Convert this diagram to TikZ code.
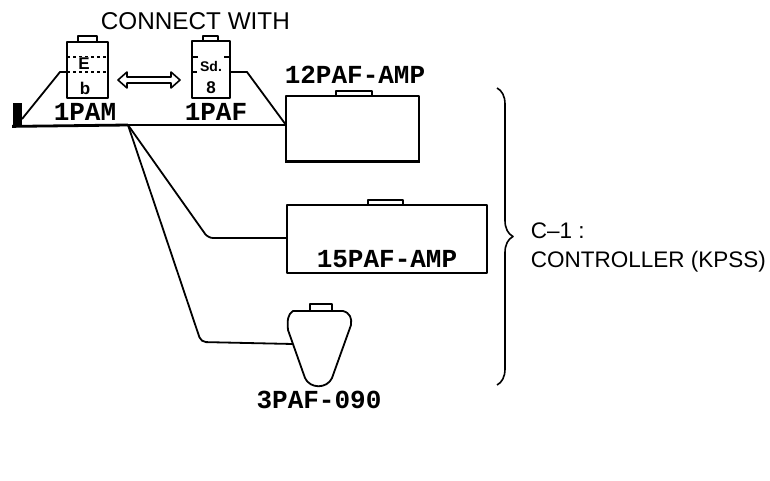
\documentclass[tikz,border=0pt]{standalone}
\usepackage{fontspec}
\setmainfont{Liberation Serif}
\newfontfamily\labelfont{Liberation Mono}
\newfontfamily\notefont{Liberation Sans}
\usetikzlibrary{arrows.meta, decorations.pathreplacing}

\begin{document}
\begin{tikzpicture}[x=1pt, y=-1pt, line width=1.8pt, line join=round,
  unit/.style={draw, line width=1.8pt, inner sep=0pt, fill=white},
  partlabel/.style={font=\labelfont\bfseries\fontsize{26}{26}\selectfont, inner sep=0pt, anchor=base},
  notetext/.style={font=\notefont\fontsize{22.5}{22.5}\selectfont, inner sep=0pt, anchor=base west},
  celltext/.style={font=\notefont\bfseries\fontsize{17}{17}\selectfont, inner sep=0pt},
  wire/.style={line width=1.8pt, rounded corners=5pt}]
\useasboundingbox (0,0) rectangle (770,481);

% ---- battery packs ----
\node[unit, minimum width=41pt, minimum height=56pt] (pam) at (87.5,70) {};
\draw (78,42) -- (78,36) -- (97,36) -- (97,42);
\draw[dashed, line width=1.4pt] (67,57) -- (108,57) (67,72) -- (108,72);
\node[celltext, fill=white, inner sep=1pt] (pamtop) at (84,64) {E};
\node[celltext] (pambot) at (85,88) {b};

\node[unit, minimum width=38pt, minimum height=57pt] (paf) at (211,69.5) {};
\draw (203,41) -- (203,36) -- (218,36) -- (218,41);
\draw[line width=1.4pt] (192,57) -- (198,57) (224,57) -- (230,57) (192,72) -- (197,72);
\node[celltext, font=\notefont\bfseries\fontsize{14}{14}\selectfont] (paftop) at (211,66) {Sd.};
\node[celltext] (pafbot) at (211,88) {8};

% hollow two-headed link between the two packs
\coordinate (linkA) at (118,80);
\coordinate (linkB) at (180,80);
\draw[line width=1.6pt] (linkA) -- (127,72) -- (127,77) -- (171,77) -- (171,72)
  -- (linkB) -- (171,88) -- (171,83) -- (127,83) -- (127,88) -- cycle;

% ---- ground block and bus ----
\node[fill, minimum width=9pt, minimum height=22pt, inner sep=0pt] (gnd) at (17.5,114.5) {};
\coordinate (hub) at (128,125);
\coordinate (pamport) at (67,72);
\coordinate (pafport) at (230,72);

% ---- amplifiers ----
\node[unit, minimum width=133pt, minimum height=65pt] (amp12) at (352.5,128.5) {};
\draw (336,96) -- (336,91) -- (372,91) -- (372,96);
\draw[line width=2.8pt] (amp12.south west) -- (amp12.south east);
\coordinate (bus12) at (286,125);

\node[unit, minimum width=200pt, minimum height=68pt] (amp15) at (387,239) {};
\draw (368,205) -- (368,200) -- (403,200) -- (403,205);
\coordinate (in15) at (287,238);

% ---- speaker ----
\draw[fill=white] (293,311) -- (343,311) .. controls (350,313) and (352,318) .. (351,325)
  -- (332,378) .. controls (327,389) and (310,389) .. (305,378)
  -- (288,330) .. controls (287,320) and (288,314) .. (293,311) -- cycle;
\draw (310,311) -- (310,304) -- (332,304) -- (332,311);
\coordinate (spk) at (293,344);

% ---- wiring ----
\draw[line width=2.8pt] (gnd.south west) -- (hub);
\draw (hub) -- (bus12);
\draw (pamport) -- (60,72) -- (22,119);
\draw (pafport) -- (247,72) -- (bus12);
\draw[wire] (hub) -- (208,238) -- (in15);
\draw[wire] (hub) -- (201,342) -- (spk);

% ---- controller brace ----
\draw[line width=1.6pt, decorate, decoration={brace, amplitude=16pt}] (497,88) -- (497,385);

% ---- labels ----
\node[partlabel] (lpam) at (85,121) {1PAM};
\node[partlabel] (lpaf) at (216,121) {1PAF};
\node[partlabel] (l12) at (355,84) {12PAF-AMP};
\node[partlabel] (l15) at (387,267) {15PAF-AMP};
\node[partlabel] (l3) at (319,408) {3PAF-090};
\node[notetext, font=\notefont\fontsize{24.3}{24.3}\selectfont] (conn) at (100,30) {CONNECT WITH};
\node[notetext] (c1) at (530,238) {C–1 :};
\node[notetext] (ctrl) at (530,267) {CONTROLLER (KPSS)};
\end{tikzpicture}
\end{document}
